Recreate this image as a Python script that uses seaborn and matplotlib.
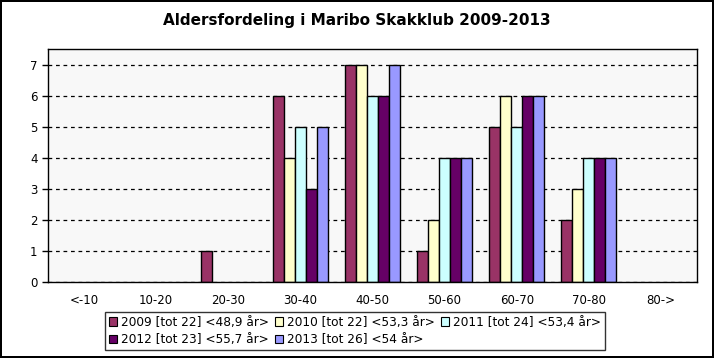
import matplotlib
matplotlib.use("Agg")
import matplotlib.pyplot as plt
from matplotlib.patches import Patch
import seaborn as sns
import pandas as pd
import numpy as np

categories = ["<-10", "10-20", "20-30", "30-40", "40-50", "50-60", "60-70", "70-80", "80->"]
series_labels = [
    "2009 [tot 22] <48,9 år>",
    "2010 [tot 22] <53,3 år>",
    "2011 [tot 24] <53,4 år>",
    "2012 [tot 23] <55,7 år>",
    "2013 [tot 26] <54 år>",
]
v2009 = [0, 0, 1, 6, 7, 1, 5, 2, 0]
v2010 = [0, 0, 0, 4, 7, 2, 6, 3, 0]
v2011 = [0, 0, 0, 5, 6, 4, 5, 4, 0]
v2012 = [0, 0, 0, 3, 6, 4, 6, 4, 0]
v2013 = [0, 0, 0, 5, 7, 4, 6, 4, 0]
colors = ["#993366", "#FFFFCC", "#CCFFFF", "#660066", "#9999FF"]

rows = []
for lab, vals in zip(series_labels, [v2009, v2010, v2011, v2012, v2013]):
    for c, v in zip(categories, vals):
        rows.append({"cat": c, "val": v, "serie": lab})
df = pd.DataFrame(rows)

sns.set_style("white")
plt.rcParams["font.family"] = ["DejaVu Sans"]
plt.rcParams["text.color"] = "black"
plt.rcParams["xtick.labelcolor"] = "black"
plt.rcParams["ytick.labelcolor"] = "black"

fig = plt.figure(figsize=(7.14, 3.58), dpi=100)
fig.patch.set_facecolor("white")
fig.patch.set_edgecolor("black")
fig.patch.set_linewidth(1.5)

ax = fig.add_axes([48/714, 1 - 282/358, (697-48)/714, (282-49)/358])
sns.barplot(data=df, x="cat", y="val", hue="serie", order=categories,
            hue_order=series_labels, palette=colors, width=0.76,
            edgecolor="black", linewidth=1.0, saturation=1, ax=ax, legend=False)

for p in ax.patches:
    if p.get_height() == 0:
        p.set_visible(False)

ax.set_facecolor("#F8F8F8")
ax.set_ylim(0, 7.5)
ax.set_xlim(-0.5, len(categories) - 0.5)
ax.set_yticks(range(0, 8))
ax.yaxis.grid(True, linestyle=(0, (3, 3)), color="black", linewidth=0.9)
ax.set_axisbelow(True)
ax.set_xlabel("")
ax.set_ylabel("")
for s in ax.spines.values():
    s.set_visible(True)
    s.set_color("black")
    s.set_linewidth(1.0)

ax.set_xticks(range(len(categories)))
ax.set_xticklabels(categories)
ax.set_xticks(np.arange(-0.5, len(categories) - 0.4, 1), minor=True)
ax.tick_params(axis="x", which="major", length=0, pad=9, labelsize=8.5, labelcolor="black")
ax.tick_params(axis="x", which="minor", length=5, width=1, direction="out", color="black")
ax.tick_params(axis="y", length=4, width=1, direction="out", color="black", labelsize=8.5,
               left=True, labelcolor="black")

fig.text(357/714, 1 - 20/358, "Aldersfordeling i Maribo Skakklub 2009-2013",
         ha="center", va="center", fontsize=11, fontweight="bold", color="black")

handles = [Patch(facecolor=c, edgecolor="black", linewidth=0.8) for c in colors]
order = [0, 3, 1, 4, 2]
h = [handles[i] for i in order]
l = [series_labels[i] for i in order]
leg = fig.legend(h, l, loc="center", bbox_to_anchor=(355/714, 1 - 331/358), ncol=3,
                 fontsize=8.7, frameon=True, fancybox=False, edgecolor="black",
                 handlelength=0.7, handleheight=0.7, handletextpad=0.3,
                 columnspacing=0.5, labelspacing=0.4, borderpad=0.3)
leg.get_frame().set_linewidth(1.0)
for t in leg.texts:
    t.set_color("black")

fig.savefig("out.png", dpi=100, facecolor="white", edgecolor="black")
